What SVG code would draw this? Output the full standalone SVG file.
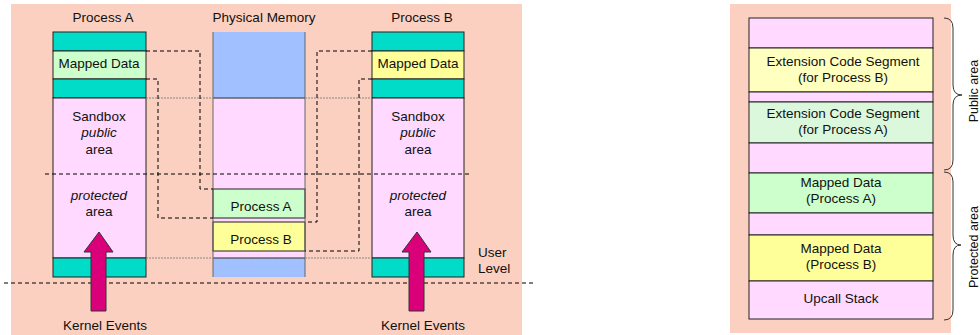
<svg xmlns="http://www.w3.org/2000/svg" width="980" height="335" viewBox="0 0 980 335">
<style>
text{font-family:"Liberation Sans",Arial,sans-serif;font-size:13.5px;fill:#111;}
.c{text-anchor:middle;}
.i{font-style:italic;}
.r{font-size:12.5px;}
.bd{stroke:#222;stroke-width:1;}
.teal{fill:#00DCC8;}
.pink{fill:#FFD9FF;}
.green{fill:#CCFFCC;}
.yellow{fill:#FFFF99;}
.blue{fill:#A0C0FF;}
.dash{fill:none;stroke:#000;stroke-width:1;stroke-dasharray:4,3;}
.dot{fill:none;stroke:#888;stroke-width:1;stroke-dasharray:2,1;}
.arrow{fill:#DA007A;stroke:#333;stroke-width:1;}
</style>
<rect x="11" y="4" width="511" height="331" fill="#FBD0C0"/>
<rect x="730" y="4" width="221" height="329" fill="#FBD0C0"/>

<g id="labels-left">
<text class="c" x="103" y="22">Process A</text>
<text class="c" x="264" y="22">Physical Memory</text>
<text class="c" x="422" y="22">Process B</text>
</g>

<g id="process-a">
<rect class="teal bd" x="53" y="32" width="93" height="19"/>
<rect class="green bd" x="53" y="51" width="93" height="28"/>
<rect class="teal bd" x="53" y="79" width="93" height="19"/>
<rect class="pink bd" x="53" y="98" width="93" height="160"/>
<rect class="teal bd" x="53" y="258" width="93" height="19"/>
<text class="c" x="99" y="68">Mapped Data</text>
<text class="c" x="99" y="121">Sandbox</text>
<text class="c i" x="99" y="137">public</text>
<text class="c" x="99" y="154">area</text>
<text class="c i" x="99" y="200">protected</text>
<text class="c" x="99" y="216">area</text>
</g>

<g id="physical-memory">
<rect class="blue" x="213" y="32" width="92" height="66"/>
<rect class="pink" x="213" y="98" width="92" height="160"/>
<rect class="blue" x="213" y="258" width="92" height="19"/>
<line x1="213" y1="98" x2="305" y2="98" stroke="#222"/>
<line x1="213" y1="258" x2="305" y2="258" stroke="#222"/>
<rect class="green bd" x="213" y="189" width="92" height="29"/>
<rect class="yellow bd" x="213" y="222" width="92" height="29"/>
<line x1="213" y1="32" x2="213" y2="277" stroke="#666"/>
<line x1="305" y1="32" x2="305" y2="277" stroke="#666"/>
<text class="c" x="261" y="211">Process A</text>
<text class="c" x="261" y="244">Process B</text>
</g>

<g id="process-b">
<rect class="teal bd" x="372" y="32" width="92" height="19"/>
<rect class="yellow bd" x="372" y="51" width="92" height="28"/>
<rect class="teal bd" x="372" y="79" width="92" height="19"/>
<rect class="pink bd" x="372" y="98" width="92" height="160"/>
<rect class="teal bd" x="372" y="258" width="92" height="19"/>
<text class="c" x="418" y="68">Mapped Data</text>
<text class="c" x="418" y="121">Sandbox</text>
<text class="c i" x="418" y="137">public</text>
<text class="c" x="418" y="154">area</text>
<text class="c i" x="418" y="200">protected</text>
<text class="c" x="418" y="216">area</text>
</g>

<g id="connectors">
<line class="dot" x1="146" y1="98" x2="372" y2="98"/>
<line class="dot" x1="146" y1="258" x2="372" y2="258"/>
<line class="dash" x1="45" y1="174" x2="472" y2="174"/>
<line class="dash" x1="4" y1="283" x2="533" y2="283"/>
<polyline class="dash" points="146,51 200,51 200,189 213,189"/>
<polyline class="dash" points="146,79 158,79 158,218 213,218"/>
<polyline class="dash" points="372,51 317,51 317,222 305,222"/>
<polyline class="dash" points="372,79 359,79 359,251 305,251"/>
</g>

<g id="kernel-a">
<polygon class="arrow" points="99,232 113,252 106,252 106,311 91,311 91,252 84,252"/>
<text class="c" x="105" y="330">Kernel Events</text>
</g>
<g id="kernel-b">
<polygon class="arrow" points="417,232 431,252 424,252 424,311 409,311 409,252 402,252"/>
<text class="c" x="423" y="330">Kernel Events</text>
</g>
<g id="user-level">
<text x="478" y="257">User</text>
<text x="478" y="273">Level</text>
</g>

<g id="sandbox-layout">
<rect class="pink bd" x="749" y="18" width="184" height="30"/>
<rect fill="#FFFFC0" class="bd" x="749" y="48" width="184" height="44"/>
<rect class="pink bd" x="749" y="92" width="184" height="10"/>
<rect fill="#DCF8DC" class="bd" x="749" y="102" width="184" height="41"/>
<rect class="pink bd" x="749" y="143" width="184" height="30"/>
<rect class="green bd" x="749" y="173" width="184" height="40"/>
<rect class="pink bd" x="749" y="213" width="184" height="22"/>
<rect class="yellow bd" x="749" y="235" width="184" height="46"/>
<rect class="pink bd" x="749" y="281" width="184" height="38"/>
<text class="c" x="843" y="66">Extension Code Segment</text>
<text class="c" x="843" y="82">(for Process B)</text>
<text class="c" x="843" y="118">Extension Code Segment</text>
<text class="c" x="843" y="134">(for Process A)</text>
<text class="c" x="841" y="187">Mapped Data</text>
<text class="c" x="841" y="203">(Process A)</text>
<text class="c" x="841" y="253">Mapped Data</text>
<text class="c" x="841" y="269">(Process B)</text>
<text class="c" x="841" y="303">Upcall Stack</text>
</g>

<g id="braces" fill="none" stroke="#333" stroke-width="1">
<path d="M944,18 Q953,18 953,28 L953,85 Q953,95 962,95 Q953,95 953,105 L953,160 Q953,170 944,170"/>
<path d="M944,172 Q953,172 953,182 L953,235 Q953,245 961,245 Q953,245 953,255 L953,310 Q953,320 944,320"/>
</g>
<g id="brace-labels">
<text class="c r" transform="translate(978,91) rotate(-90)">Public area</text>
<text class="c r" transform="translate(978,247) rotate(-90)">Protected area</text>
</g>
</svg>
